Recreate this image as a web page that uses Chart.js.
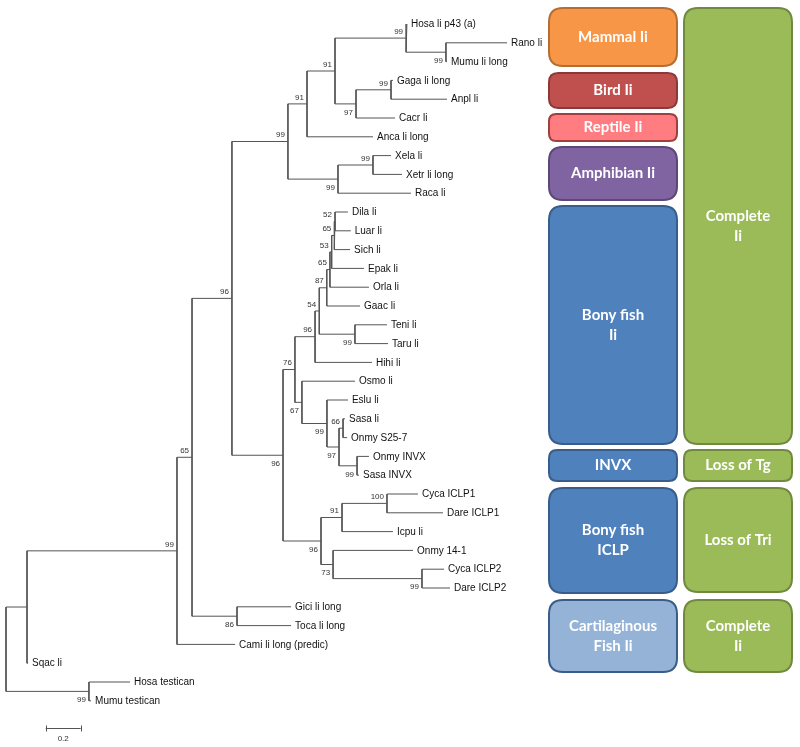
<!DOCTYPE html>
<html>
<head>
<meta charset="utf-8">
<title>Ii phylogeny</title>
<script src="https://cdn.jsdelivr.net/npm/chart.js@4.4.1/dist/chart.umd.min.js"></script>
<style>
  html, body { margin: 0; padding: 0; background: #fff; }
  #wrap { width: 800px; height: 747px; }
</style>
</head>
<body>
<div id="wrap"><canvas id="tree" width="800" height="747"></canvas></div>
<script>
// leaves, top to bottom
var leafNames = ['Hosa li p43 (a)', 'Rano li', 'Mumu li long', 'Gaga li long', 'Anpl li', 'Cacr li',
  'Anca li long', 'Xela li', 'Xetr li long', 'Raca li', 'Dila li', 'Luar li', 'Sich li', 'Epak li',
  'Orla li', 'Gaac li', 'Teni li', 'Taru li', 'Hihi li', 'Osmo li', 'Eslu li', 'Sasa li', 'Onmy S25-7',
  'Onmy INVX', 'Sasa INVX', 'Cyca ICLP1', 'Dare ICLP1', 'Icpu li', 'Onmy 14-1', 'Cyca ICLP2',
  'Dare ICLP2', 'Gici li long', 'Toca li long', 'Cami li long (predic)', 'Sqac li', 'Hosa testican',
  'Mumu testican'];
// distance of each tip from the root (substitutions/site)
var leafDepth = [2.291, 2.863, 2.520, 2.211, 2.520, 2.223, 2.097, 2.200, 2.263, 2.314, 1.954, 1.970,
  1.966, 2.046, 2.074, 2.023, 2.177, 2.183, 2.091, 1.994, 1.954, 1.937, 1.949, 2.074, 2.017, 2.354,
  2.497, 2.211, 2.326, 2.503, 2.537, 1.629, 1.629, 1.309, 0.126, 0.709, 0.486];
// internal nodes: children ('L' = leaf, 'N' = node), depth, bootstrap
var nodeKids = [
  ['L1', 'L2'], ['L0', 'N0'], ['L3', 'L4'], ['N2', 'L5'], ['N1', 'N3'], ['N4', 'L6'],
  ['L7', 'L8'], ['N6', 'L9'], ['N5', 'N7'], ['L10', 'L11'], ['N9', 'L12'], ['N10', 'L13'],
  ['N11', 'L14'], ['N12', 'L15'], ['L16', 'L17'], ['N13', 'N14'], ['N15', 'L18'], ['L21', 'L22'],
  ['L23', 'L24'], ['N17', 'N18'], ['L20', 'N19'], ['L19', 'N20'], ['N16', 'N21'], ['L25', 'L26'],
  ['N23', 'L27'], ['L29', 'L30'], ['L28', 'N25'], ['N24', 'N26'], ['N22', 'N27'], ['N8', 'N28'],
  ['L31', 'L32'], ['N29', 'N30'], ['N31', 'L33'], ['N32', 'L34'], ['L35', 'L36'], ['N33', 'N34']
];
var nodeDepth = [2.514, 2.286, 2.200, 2.000, 1.880, 1.720, 2.097, 1.897, 1.611, 1.880, 1.876, 1.861,
  1.851, 1.833, 1.994, 1.790, 1.766, 1.926, 2.006, 1.903, 1.834, 1.691, 1.651, 2.177, 1.920, 2.377,
  1.869, 1.800, 1.583, 1.291, 1.320, 1.063, 0.977, 0.120, 0.474, 0];
var nodeSupport = [99, 99, 99, 97, 91, 91, 99, 99, 99, 52, 65, 53, 65, 87, 99, 54, 96, 66, 99, 97, 99,
  67, 76, 100, 91, 99, 73, 96, 96, 96, 86, 65, 99, null, 99, null];
var scaleBarLength = 0.2;

// group boxes on the right
var groupLabels = ['Mammal Ii', 'Bird Ii', 'Reptile Ii', 'Amphibian Ii', 'Bony fish\nIi', 'INVX',
  'Bony fish\nICLP', 'Cartilaginous\nFish Ii', 'Complete\nIi', 'Loss of Tg', 'Loss of Tri', 'Complete\nIi'];

var boxes = [
  // col, top, bottom (in leaf-row units), fill, stroke
  [0, -0.90, 2.29, '#F79646', '#B66D31'],
  [0, 2.55, 4.52, '#C0504D', '#8C3836'],
  [0, 4.73, 6.28, '#FF7C80', '#A0403E'],
  [0, 6.49, 9.42, '#8064A2', '#5C4776'],
  [0, 9.63, 22.39, '#4F81BD', '#385D8A'],
  [0, 22.61, 24.36, '#4F81BD', '#385D8A'],
  [0, 24.63, 30.32, '#4F81BD', '#385D8A'],
  [0, 30.59, 34.52, '#95B3D7', '#385D8A'],
  [1, -0.90, 22.39, '#9BBB59', '#71893F'],
  [1, 22.61, 24.36, '#9BBB59', '#71893F'],
  [1, 24.63, 30.27, '#9BBB59', '#71893F'],
  [1, 30.59, 34.52, '#9BBB59', '#71893F']
];
var boxCols = [[548, 678], [683, 793]];

function posOf(ref) {
  var i = parseInt(ref.slice(1), 10);
  if (ref[0] === 'L') return { x: leafDepth[i], y: i };
  var a = posOf(nodeKids[i][0]), b = posOf(nodeKids[i][1]);
  return { x: nodeDepth[i], y: (a.y + b.y) / 2 };
}

// which nodes are the upper child of their parent (support label goes above)
var isUpper = {};
nodeKids.forEach(function (kids) {
  if (kids[0][0] === 'N') isUpper[kids[0]] = true;
  if (kids[1][0] === 'N') isUpper[kids[1]] = false;
});

var datasets = nodeKids.map(function (kids, n) {
  var a = posOf(kids[0]), b = posOf(kids[1]), d = nodeDepth[n];
  return {
    type: 'scatter',
    showLine: true,
    data: [{ x: a.x, y: a.y }, { x: d, y: a.y }, { x: d, y: b.y }, { x: b.x, y: b.y }],
    borderColor: '#555',
    borderWidth: 1,
    pointRadius: 0,
    tension: 0,
    fill: false
  };
});

function roundRect(ctx, x, y, w, h, r) {
  ctx.beginPath();
  ctx.moveTo(x + r, y);
  ctx.lineTo(x + w - r, y);
  ctx.quadraticCurveTo(x + w, y, x + w, y + r);
  ctx.lineTo(x + w, y + h - r);
  ctx.quadraticCurveTo(x + w, y + h, x + w - r, y + h);
  ctx.lineTo(x + r, y + h);
  ctx.quadraticCurveTo(x, y + h, x, y + h - r);
  ctx.lineTo(x, y + r);
  ctx.quadraticCurveTo(x, y, x + r, y);
  ctx.closePath();
}

var treeText = {
  id: 'treeText',
  afterDatasetsDraw: function (chart) {
    var ctx = chart.ctx, xs = chart.scales.x, ys = chart.scales.y;
    ctx.save();
    // tip labels
    ctx.font = '10px "Liberation Sans", Arial, sans-serif';
    ctx.fillStyle = '#111';
    ctx.textAlign = 'left';
    ctx.textBaseline = 'middle';
    leafNames.forEach(function (name, i) {
      ctx.fillText(name, xs.getPixelForValue(leafDepth[i]) + 4, ys.getPixelForValue(i) + 0.5);
    });
    // bootstrap values
    ctx.font = '8px "Liberation Sans", Arial, sans-serif';
    ctx.fillStyle = '#333';
    ctx.textAlign = 'right';
    nodeSupport.forEach(function (s, n) {
      if (s == null) return;
      var p = posOf('N' + n);
      var px = xs.getPixelForValue(p.x) - 3;
      var py = ys.getPixelForValue(p.y) + (isUpper['N' + n] ? -6.5 : 8.5);
      ctx.fillText(String(s), px, py);
    });
    // scale bar
    var x0 = xs.getPixelForValue(0.227), x1 = xs.getPixelForValue(0.227 + scaleBarLength);
    var yb = Math.round(ys.getPixelForValue(37.45)) + 0.5;
    ctx.strokeStyle = '#555';
    ctx.lineWidth = 1;
    ctx.beginPath();
    ctx.moveTo(x0, yb); ctx.lineTo(x1, yb);
    ctx.moveTo(Math.round(x0) + 0.5, yb - 3); ctx.lineTo(Math.round(x0) + 0.5, yb + 3);
    ctx.moveTo(Math.round(x1) + 0.5, yb - 3); ctx.lineTo(Math.round(x1) + 0.5, yb + 3);
    ctx.stroke();
    ctx.textAlign = 'center';
    ctx.fillText(String(scaleBarLength), (x0 + x1) / 2, yb + 10);

    // group boxes
    boxes.forEach(function (b, k) {
      var left = boxCols[b[0]][0], right = boxCols[b[0]][1];
      var top = ys.getPixelForValue(b[1]), bot = ys.getPixelForValue(b[2]);
      var h = bot - top;
      var r = Math.min(14, h / 4);
      roundRect(ctx, left + 1, top + 1, right - left - 2, h - 2, r);
      ctx.fillStyle = b[3];
      ctx.fill();
      ctx.lineWidth = 2;
      ctx.strokeStyle = b[4];
      ctx.stroke();
      var lines = groupLabels[k].split('\n');
      ctx.fillStyle = '#fff';
      ctx.font = 'bold 15px Lato, "Open Sans", sans-serif';
      ctx.textAlign = 'center';
      ctx.textBaseline = 'middle';
      var cy = (top + bot) / 2 - (lines.length - 1) * 10;
      lines.forEach(function (ln, j) {
        ctx.fillText(ln, (left + right) / 2, cy + j * 20);
      });
    });
    ctx.restore();
  }
};

new Chart(document.getElementById('tree'), {
  type: 'scatter',
  data: { datasets: datasets },
  options: {
    responsive: false,
    animation: false,
    devicePixelRatio: 1,
    layout: { padding: 0 },
    plugins: { legend: { display: false }, tooltip: { enabled: false } },
    scales: {
      x: { type: 'linear', display: false, min: -6 / 175, max: 794 / 175 },
      y: { type: 'linear', display: false, reverse: true, min: -24 / 18.8, max: 723 / 18.8 }
    }
  },
  plugins: [treeText]
});
</script>
</body>
</html>
